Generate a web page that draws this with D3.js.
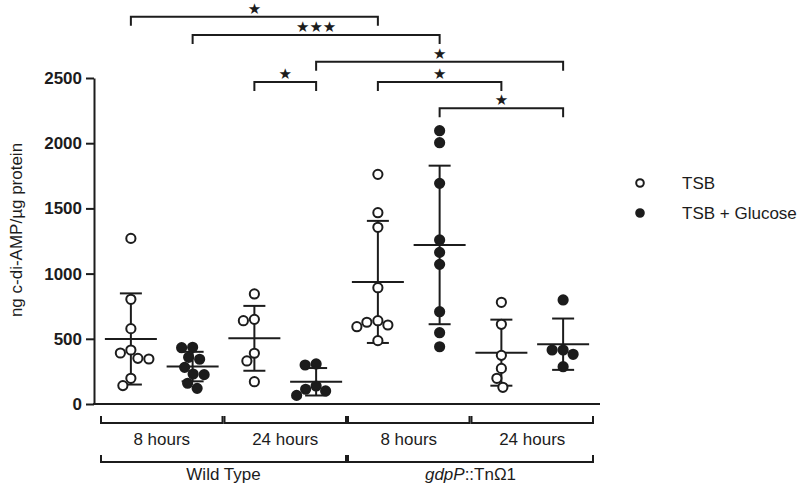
<!DOCTYPE html>
<html>
<head>
<meta charset="utf-8">
<script src="https://cdn.jsdelivr.net/npm/d3@7"></script>
<style>
  body { margin: 0; background: #fff; }
  svg { font-family: "Liberation Sans", Arial, sans-serif; }
</style>
</head>
<body>
<svg id="chart"></svg>
<script>
// categories
const strains = ["Wild Type", "gdpP"];
const times = ["8 hours", "24 hours"];
const media = ["TSB", "TSB + Glucose"];

// c-di-AMP values (ng / µg protein), one array per bar group
const wt8Tsb = [1270, 803, 578, 414, 391, 350, 345, 197, 141];
const wt8Glc = [435, 432, 358, 343, 281, 230, 225, 159, 120];
const wt24Tsb = [844, 649, 639, 389, 330, 171];
const wt24Glc = [307, 299, 138, 113, 100, 66];
const mut8Tsb = [1761, 1467, 1355, 892, 639, 627, 606, 593, 486];
const mut8Glc = [2096, 2004, 1692, 1258, 1163, 1071, 708, 547, 439];
const mut24Tsb = [780, 611, 373, 273, 197, 128];
const mut24Glc = [798, 414, 414, 381, 286];

const yTicks = [0, 500, 1000, 1500, 2000, 2500];

// significance brackets: group index pairs, stars, bracket level (data units)
const sigPairs = [[0, 4], [1, 5], [3, 7], [2, 3], [4, 6], [5, 7]];
const sigStars = ["★", "★★★", "★", "★", "★", "★"];
const sigLevels = [2970, 2830, 2625, 2470, 2470, 2268];

const groupValues = [wt8Tsb, wt8Glc, wt24Tsb, wt24Glc, mut8Tsb, mut8Glc, mut24Tsb, mut24Glc];

const width = 800, height = 485;
const ink = "#1c1c1c";
const r = 4.6;

const svg = d3.select("#chart").attr("width", width).attr("height", height);

const x = d3.scaleBand().domain(d3.range(8)).range([100, 594]);
const y = d3.scaleLinear().domain([0, 2500]).range([404, 78]);
const cx = i => x(i) + x.bandwidth() / 2;

// y axis
const yAxis = d3.axisLeft(y).tickValues(yTicks).tickFormat(d3.format("d"))
    .tickSize(8).tickSizeOuter(0).tickPadding(4);
const yAxisG = svg.append("g").attr("transform", "translate(94,0)").call(yAxis);
yAxisG.selectAll("path, line").attr("stroke", ink).attr("stroke-width", 2);
yAxisG.selectAll("text")
    .attr("font-size", 17).attr("font-weight", "bold").attr("fill", ink)
    .attr("font-family", "Liberation Sans, Arial, sans-serif");

// x axis line
svg.append("line")
    .attr("x1", 93).attr("x2", 600)
    .attr("y1", y(0)).attr("y2", y(0))
    .attr("stroke", ink).attr("stroke-width", 2);

// y title
svg.append("text")
    .attr("transform", `translate(22,${(y(0) + y(2500)) / 2 - 11}) rotate(-90)`)
    .attr("text-anchor", "middle")
    .attr("font-size", 17).attr("fill", ink)
    .text("ng c-di-AMP/µg protein");

// simple beeswarm so points in a group do not overlap
function swarm(vals) {
    const placed = [];
    const minD = 2 * r + 1.5;
    vals.forEach(v => {
        const py = y(v);
        let best = 0;
        for (let k = 0; k < 60; k++) {
            const cands = k === 0 ? [0] : [-k * 0.5, k * 0.5];
            const ok = cands.find(off => placed.every(p => Math.hypot(p.dx - off, p.py - py) >= minD));
            if (ok !== undefined) { best = ok; break; }
        }
        placed.push({ v: v, dx: best, py: py });
    });
    return placed;
}

groupValues.forEach((vals, i) => {
    const g = svg.append("g");
    const m = d3.mean(vals);
    const sd = d3.deviation(vals);
    const c = cx(i);
    const filled = i % 2 === 1;

    // error bar
    g.append("line").attr("x1", c).attr("x2", c)
        .attr("y1", y(m + sd)).attr("y2", y(Math.max(m - sd, 0)))
        .attr("stroke", ink).attr("stroke-width", 2);
    [m + sd, m - sd].forEach(v => {
        g.append("line").attr("x1", c - 11).attr("x2", c + 11)
            .attr("y1", y(v)).attr("y2", y(v))
            .attr("stroke", ink).attr("stroke-width", 2);
    });
    // mean
    g.append("line").attr("x1", c - 26).attr("x2", c + 26)
        .attr("y1", y(m)).attr("y2", y(m))
        .attr("stroke", ink).attr("stroke-width", 2);

    g.selectAll("circle").data(swarm(vals)).enter().append("circle")
        .attr("cx", d => c + d.dx)
        .attr("cy", d => d.py)
        .attr("r", r)
        .attr("fill", filled ? ink : "#fff")
        .attr("stroke", ink).attr("stroke-width", 2);
});

// significance brackets
sigPairs.forEach((p, k) => {
    const x1 = cx(p[0]), x2 = cx(p[1]);
    const ly = y(sigLevels[k]);
    svg.append("path")
        .attr("d", `M${x1},${ly + 9}V${ly}H${x2}V${ly + 9}`)
        .attr("fill", "none").attr("stroke", ink).attr("stroke-width", 2);
    svg.append("text")
        .attr("x", (x1 + x2) / 2).attr("y", ly - 3)
        .attr("text-anchor", "middle")
        .attr("font-family", "DejaVu Sans, sans-serif")
        .attr("font-size", 15).attr("fill", ink)
        .text(sigStars[k]);
});

// grouping brackets below x axis
function bracket(xa, xb, yy) {
    svg.append("path")
        .attr("d", `M${xa},${yy - 7}V${yy}H${xb}V${yy - 7}`)
        .attr("fill", "none").attr("stroke", ink).attr("stroke-width", 2);
}
const bw = x.bandwidth();
strains.forEach((s, si) => {
    times.forEach((t, ti) => {
        const i0 = si * 4 + ti * 2;
        const xa = x(i0) + 1, xb = x(i0 + 1) + bw - 1;
        bracket(xa, xb, 423);
        svg.append("text")
            .attr("x", (xa + xb) / 2).attr("y", 445)
            .attr("text-anchor", "middle").attr("font-size", 17).attr("fill", ink)
            .text(t);
    });
    const xa = x(si * 4) + 1, xb = x(si * 4 + 3) + bw - 1;
    bracket(xa, xb, 462);
    const lbl = svg.append("text")
        .attr("x", (xa + xb) / 2).attr("y", 480)
        .attr("text-anchor", "middle").attr("font-size", 17).attr("fill", ink);
    if (si === 0) {
        lbl.text(s);
    } else {
        lbl.append("tspan").attr("font-style", "italic").text(s);
        lbl.append("tspan").text("::TnΩ1");
    }
});

// legend
const legend = svg.append("g").attr("transform", "translate(640,183)");
media.forEach((md, i) => {
    const item = legend.append("g").attr("transform", `translate(0,${i * 30})`);
    item.append("circle").attr("r", 3.8)
        .attr("fill", i === 1 ? ink : "#fff")
        .attr("stroke", ink).attr("stroke-width", 2);
    item.append("text").attr("x", 42).attr("y", 6)
        .attr("font-size", 17).attr("fill", ink).text(md);
});
</script>
</body>
</html>
